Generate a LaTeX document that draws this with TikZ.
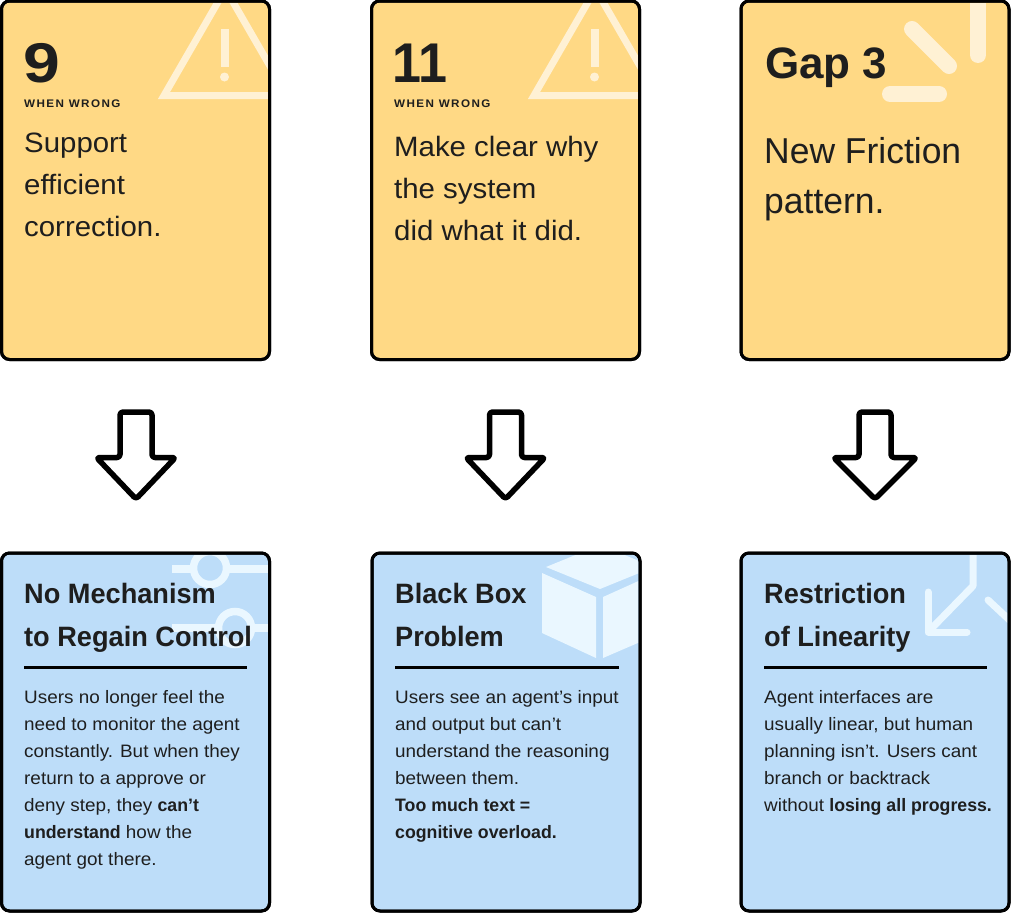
\documentclass[tikz,border=0pt]{standalone}
\usepackage{fontspec}
\setmainfont[FakeStretch=1.05,BoldFeatures={FakeStretch=0.985}]{Liberation Sans}
\newfontfamily\interf[FakeStretch=1.05,BoldFeatures={FakeStretch=0.985}]{Liberation Sans}
\newfontfamily\titlef[FakeStretch=0.97]{Liberation Sans}
\newfontfamily\wwf[LetterSpace=13,FakeStretch=1.06]{Liberation Sans}
\newfontfamily\gapf[FakeStretch=1.0]{Liberation Sans}
\newfontfamily\numf[FakeStretch=1.18]{Liberation Sans}
\newfontfamily\numtf[FakeStretch=0.93]{Liberation Sans}
\newfontfamily\bigf[FakeStretch=0.985]{Liberation Sans}
\definecolor{cardy}{HTML}{FFD985}
\definecolor{cardb}{HTML}{BDDDF9}
\definecolor{icony}{HTML}{FFF1D4}
\definecolor{iconb}{HTML}{EAF7FF}
\definecolor{ink}{HTML}{1E1E1E}
\newcommand{\ls}[1]{\vtop{\halign{##\hfil\cr #1\crcr}}}
\tikzset{
  x=1pt,y=-1pt,
  card/.style={draw=black,line width=3pt,rounded corners=8pt,minimum width=268pt,outer sep=0pt,inner sep=0pt},
  yellowcard/.style={card,fill=cardy,minimum height=358.5pt},
  bluecard/.style={card,fill=cardb,minimum height=358pt},
  txt/.style={anchor=base west,inner sep=0pt,text=ink},
  wrong/.style={txt,font=\wwf\bfseries\fontsize{11}{11}\selectfont},
  upper/.style={txt,font=\interf\fontsize{28}{42}\selectfont},
  title/.style={txt,font=\titlef\bfseries\fontsize{28}{43}\selectfont},
  bodytxt/.style={txt,font=\interf\fontsize{18}{27}\selectfont},
  rulel/.style={line width=3pt,draw=black},
  blockarrow/.style={draw=black,fill=white,line width=5.5pt,line join=round,rounded corners=3pt},
  iy/.style={draw=icony},
  ib/.style={draw=iconb},
}
\newcommand{\blockarr}[2]{\draw[blockarrow,shift={(#1)}] (-16,-43) -- (16,-43) -- (16,2.5) -- (#2,2.5) -- (0,44) -- (-#2,2.5) -- (-16,2.5) -- cycle;}
\newcommand{\warnicon}[1]{\begin{scope}[shift={(#1,0)}]
  \draw[iy,line width=7pt,miter limit=10] (225.5,-11) -- (287,95.5) -- (164,95.5) -- cycle;
  \fill[icony] (220.5,29) rectangle (228.5,67);
  \fill[icony] (224.5,77) circle (4.5);
\end{scope}}
\begin{document}
\begin{tikzpicture}
\useasboundingbox (0,0) rectangle (1011,913);
% cards
\node[yellowcard] (y1) at (135.5,180.25) {};
\node[yellowcard] (y2) at (505.5,180.25) {};
\node[yellowcard] (y3) at (875,180.25) {};
\node[bluecard] (b1) at (135.5,732) {};
\node[bluecard] (b2) at (506,732) {};
\node[bluecard] (b3) at (875,732) {};
% icons, clipped to their cards
\begin{scope}
  \clip[rounded corners=7pt] (3,3) rectangle (268,358);
  \warnicon{0}
\end{scope}
\begin{scope}
  \clip[rounded corners=7pt] (373,3) rectangle (638,358);
  \warnicon{370}
\end{scope}
\begin{scope}
  \clip[rounded corners=7pt] (743,3) rectangle (1007,358);
  \draw[iy,line width=16pt,line cap=round] (978,-5) -- (978,55);
  \draw[iy,line width=16pt,line cap=round] (912,29) -- (949,66);
  \draw[iy,line width=16pt,line cap=round] (890,94) -- (939,94);
\end{scope}
\begin{scope}
  \clip[rounded corners=7pt] (3,555) rectangle (268,909);
  \draw[ib,line width=8pt] (172,569) -- (275,569);
  \draw[ib,line width=7.5pt,fill=cardb] (210,568) circle (16.5);
  \draw[ib,line width=8pt] (172,628) -- (275,628);
  \draw[ib,line width=7.5pt,fill=cardb] (235,628) circle (16.5);
\end{scope}
\begin{scope}
  \clip[rounded corners=7pt] (374,555) rectangle (638,909);
  \fill[iconb] (546,567) -- (600,545) -- (654,567) -- (600,589) -- cycle;
  \fill[iconb] (542,573) -- (596,597) -- (596,658) -- (542,633) -- cycle;
  \fill[iconb] (603,597) -- (654,574) -- (654,636) -- (603,658) -- cycle;
\end{scope}
\begin{scope}
  \clip[rounded corners=7pt] (743,555) rectangle (1007,909);
  \draw[ib,line width=7pt,line cap=round,line join=round] (973,550) -- (973,586) -- (929,631);
  \draw[ib,line width=7pt,line cap=round,line join=round] (928,592) -- (928,632) -- (967,632);
  \draw[ib,line width=7pt,line cap=round] (988,600) -- (1018,628);
\end{scope}
% redraw borders above clipped icons
\draw[black,line width=3pt,rounded corners=8pt] (y1.north west) rectangle (y1.south east);
\draw[black,line width=3pt,rounded corners=8pt] (y2.north west) rectangle (y2.south east);
\draw[black,line width=3pt,rounded corners=8pt] (y3.north west) rectangle (y3.south east);
\draw[black,line width=3pt,rounded corners=8pt] (b1.north west) rectangle (b1.south east);
\draw[black,line width=3pt,rounded corners=8pt] (b2.north west) rectangle (b2.south east);
\draw[black,line width=3pt,rounded corners=8pt] (b3.north west) rectangle (b3.south east);
% arrows
\coordinate (a1) at (136,455);
\coordinate (a2) at (505.5,455);
\coordinate (a3) at (875,455);
\blockarr{a1}{39.5}
\blockarr{a2}{39.5}
\blockarr{a3}{41.5}
% upper texts
\node[txt,font=\numf\bfseries\fontsize{56}{56}\selectfont] (n1) at (23.5,82) {9};
\node[wrong] (w1) at (24,107) {WHEN WRONG};
\node[upper] (u1) at (24,152) {\ls{Support\cr efficient\cr correction.}};
\node[txt,font=\numtf\bfseries\fontsize{56}{56}\selectfont] (n2) at (392,82) {1\kern-2.5pt 1};
\node[wrong] (w2) at (394,107) {WHEN WRONG};
\node[upper] (u2) at (394,156) {\ls{Make clear why\cr the system\cr did what it did.}};
\node[txt,font=\gapf\bfseries\fontsize{44}{44}\selectfont] (n3) at (765,78) {Gap 3};
\node[txt,font=\bigf\fontsize{36}{50}\selectfont] (u3) at (764,163) {\ls{New Friction\cr pattern.}};
% lower titles
\node[title] (t1) at (24,603) {\ls{No Mechanism\cr to Regain Control}};
\node[title] (t2) at (395,603) {\ls{Black Box\cr Problem}};
\node[title] (t3) at (764,603) {\ls{Restriction\cr of Linearity}};
\coordinate (r1a) at (24,667); \coordinate (r1b) at (247,667);
\coordinate (r2a) at (395,667); \coordinate (r2b) at (619,667);
\coordinate (r3a) at (764,667); \coordinate (r3b) at (987,667);
\draw[rulel] (r1a) -- (r1b);
\draw[rulel] (r2a) -- (r2b);
\draw[rulel] (r3a) -- (r3b);
% bodies
\node[bodytxt] (d1) at (24,703) {\ls{Users no longer feel the\cr need to monitor the agent\cr constantly. But when they\cr return to a approve or\cr deny step, they \textbf{can’t}\cr \textbf{understand} how the\cr agent got there.}};
\node[bodytxt] (d2) at (395,703) {\ls{Users see an agent’s input\cr and output but can’t\cr understand the reasoning\cr between them.\cr \textbf{Too much text =}\cr \textbf{cognitive overload.}}};
\node[bodytxt] (d3) at (764,703) {\ls{Agent interfaces are\cr usually linear, but human\cr planning isn’t. Users cant\cr branch or backtrack\cr without \textbf{losing all progress.}}};
\end{tikzpicture}
\end{document}
